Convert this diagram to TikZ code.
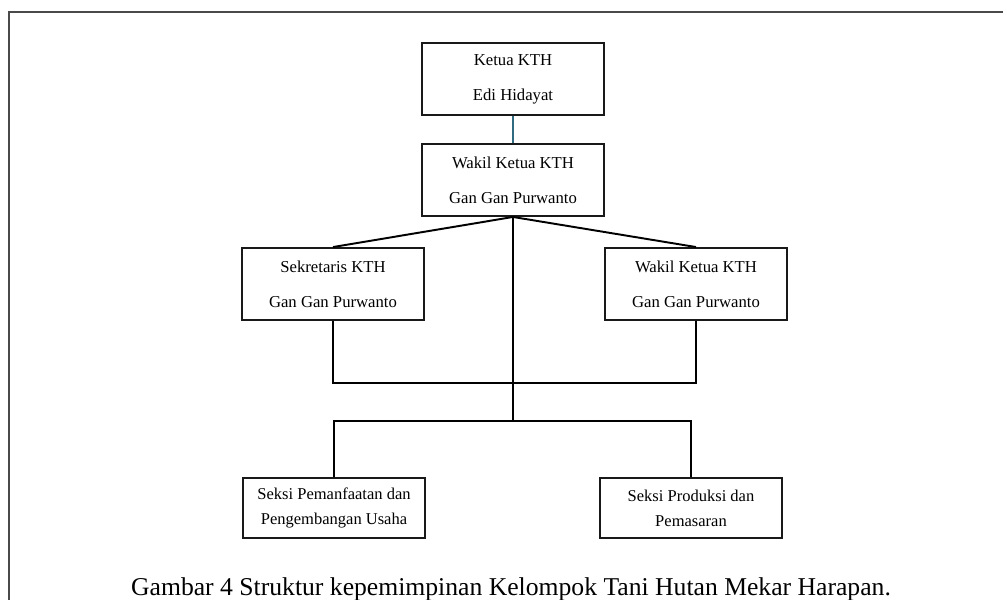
\documentclass[tikz,border=0pt]{standalone}
\usepackage{fontspec}
\setmainfont{Liberation Serif}
\usetikzlibrary{positioning}

\definecolor{framegray}{HTML}{4A4A4A}
\definecolor{linkteal}{HTML}{2F6A80}

\tikzset{
    orgbox/.style={draw=black!90, line width=1.1pt, align=center, inner sep=0pt,
        minimum width=3.64cm, minimum height=1.44cm,
        font=\fontsize{9.5}{20}\selectfont},
    seksibox/.style={orgbox, minimum height=1.2cm, font=\fontsize{9.4}{14.2}\selectfont},
    link/.style={draw=black, line width=1.1pt}
}

\begin{document}
\begin{tikzpicture}[x=0.02cm, y=-0.02cm]
                                \useasboundingbox (0,0) rectangle (1003,599);
                                \clip (0,0) rectangle (1003,599);
                                \draw[framegray, line width=1.2pt] (1020,12) -- (9,12) -- (9,620);

                                \node[orgbox] (ketua) at (513, 79) {Ketua KTH\\Edi Hidayat};
                                \node[orgbox] (wakil) at (513, 180) {Wakil Ketua KTH\\Gan Gan Purwanto};
                                \node[orgbox] (sekretaris) at (333, 284) {Sekretaris KTH\\Gan Gan Purwanto};
                                \node[orgbox] (wakilb) at (696, 284) {Wakil Ketua KTH\\Gan Gan Purwanto};
                                \node[seksibox] (pemanfaatan) at (334, 508) {Seksi Pemanfaatan dan\\Pengembangan Usaha};
                                \node[seksibox] (produksi) at (691, 508) {Seksi Produksi dan\\Pemasaran};
                                \coordinate (split) at (513, 421);

                                \draw[linkteal, line width=1.1pt] (ketua) -- (wakil);
                                \draw[link]
                                (wakil.south) -- (sekretaris.north)
                                (wakil.south) -- (wakilb.north)
                                (sekretaris.south) -- ++(0,62) -| (wakilb.south)
                                (wakil.south) -- (split)
                                (pemanfaatan.north) |- (split) -| (produksi.north);

                                \node[anchor=base, font=\fontsize{14.6}{17}\selectfont] (caption) at (511, 595)
                                {Gambar 4 Struktur kepemimpinan Kelompok Tani Hutan Mekar Harapan.};
                            \end{tikzpicture}
\end{document}
